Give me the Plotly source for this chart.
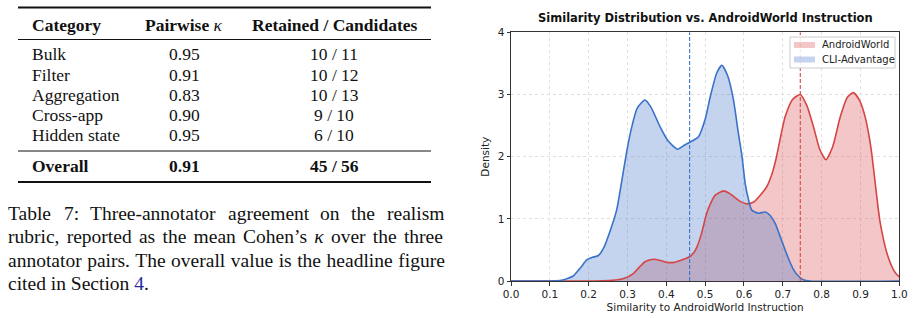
import plotly.graph_objects as go

W, H = 913, 318

# ---------------- data ----------------
table_header = ["Category", "Pairwise κ", "Retained / Candidates"]
categories = ["Bulk", "Filter", "Aggregation", "Cross-app", "Hidden state"]
kappa = ["0.95", "0.91", "0.83", "0.90", "0.95"]
retained = ["10 / 11", "10 / 12", "10 / 13", "9 / 10", "6 / 10"]
overall = ["Overall", "0.91", "45 / 56"]

caption_line1_words = ["Table", "7:", "Three-annotator", "agreement", "on", "the", "realism"]
caption_lines = [
    "rubric, reported as the mean Cohen’s <i>κ</i> over the three",
    "annotator pairs. The overall value is the headline figure",
    "cited in Section <span style='color:#2a2aa0'>4</span>.",
]

series_names = ["AndroidWorld", "CLI-Advantage"]

# KDE curves
aw_x = [0.0, 0.22, 0.26, 0.29, 0.315, 0.33, 0.345, 0.367, 0.385, 0.401, 0.42, 0.436, 0.46, 0.47,
        0.479, 0.49, 0.504, 0.515, 0.526, 0.547, 0.56, 0.573, 0.59, 0.607, 0.625, 0.642, 0.659,
        0.672, 0.682, 0.706, 0.725, 0.745, 0.762, 0.779, 0.795, 0.811, 0.828, 0.848, 0.866, 0.882,
        0.898, 0.912, 0.923, 0.930, 0.938, 0.945, 0.951, 0.96, 0.968, 0.977, 0.985, 0.993, 1.0]
aw_y = [0.0, 0.0, 0.01, 0.04, 0.12, 0.22, 0.31, 0.35, 0.33, 0.30, 0.30, 0.33, 0.39, 0.45,
        0.55, 0.75, 1.09, 1.26, 1.38, 1.45, 1.42, 1.36, 1.28, 1.24, 1.27, 1.38, 1.52,
        1.72, 1.95, 2.64, 2.92, 3.0, 2.82, 2.48, 2.12, 1.95, 2.15, 2.64, 2.95, 3.03,
        2.9, 2.64, 2.3, 2.0, 1.57, 1.2, 0.93, 0.65, 0.45, 0.29, 0.18, 0.11, 0.07]

cli_x = [0.0, 0.10, 0.13, 0.16, 0.18, 0.195, 0.21, 0.225, 0.24, 0.255, 0.272, 0.285, 0.298, 0.31,
         0.325, 0.345, 0.36, 0.384, 0.405, 0.429, 0.445, 0.46, 0.483, 0.5, 0.513, 0.53, 0.543,
         0.558, 0.573, 0.585, 0.595, 0.603, 0.612, 0.62, 0.637, 0.655, 0.668, 0.68, 0.693, 0.706,
         0.718, 0.728, 0.74, 0.753, 0.77, 1.0]
cli_y = [0.0, 0.0, 0.01, 0.08, 0.22, 0.34, 0.38, 0.41, 0.55, 0.8, 1.14, 1.6, 2.08, 2.45,
         2.78, 2.91, 2.8, 2.48, 2.25, 2.12, 2.18, 2.23, 2.32, 2.6, 2.96, 3.35, 3.47,
         3.3, 2.91, 2.4, 2.0, 1.57, 1.3, 1.14, 1.09, 1.11, 1.05, 0.93, 0.72, 0.5,
         0.31, 0.18, 0.08, 0.02, 0.0, 0.0]

aw_mean = 0.745
cli_mean = 0.46

RED = "#d64545"
BLUE = "#3a72c8"
RED_FILL = "rgba(214,69,69,0.3)"
BLUE_FILL = "rgba(58,114,200,0.3)"


def px(x):
    return x / W


def py(y):
    return 1 - y / H


fig = go.Figure()

fig.add_trace(go.Scatter(x=aw_x, y=aw_y, mode="none", fill="tozeroy", fillcolor=RED_FILL,
                         line=dict(shape="spline", smoothing=0.6), name=series_names[0]))
fig.add_trace(go.Scatter(x=cli_x, y=cli_y, mode="none", fill="tozeroy", fillcolor=BLUE_FILL,
                         line=dict(shape="spline", smoothing=0.6), name=series_names[1]))
fig.add_trace(go.Scatter(x=aw_x, y=aw_y, mode="lines", line=dict(color=RED, width=1.6, shape="spline", smoothing=0.6),
                         hoverinfo="skip"))
fig.add_trace(go.Scatter(x=cli_x, y=cli_y, mode="lines", line=dict(color=BLUE, width=1.6, shape="spline", smoothing=0.6),
                         hoverinfo="skip"))
for m, c in [(cli_mean, BLUE), (aw_mean, RED)]:
    fig.add_trace(go.Scatter(x=[m, m], y=[0, 4], mode="lines", line=dict(color=c, width=1.1, dash="4px,2px"),
                             hoverinfo="skip"))

axis_font = dict(family="DejaVu Sans", size=10.5, color="#222")
fig.update_xaxes(domain=[px(511), px(899.3)], range=[0, 1], dtick=0.1, tickformat=".1f",
                 ticks="outside", ticklen=3.5, tickcolor="#333", showline=True, mirror=True,
                 linecolor="#333", linewidth=1, showgrid=True, gridcolor="#e0e0e0", griddash="dot",
                 gridwidth=1, zeroline=False, tickfont=axis_font, automargin=False,
                 title=dict(text="Similarity to AndroidWorld Instruction", font=axis_font, standoff=4))
fig.update_yaxes(domain=[py(281), py(32.3)], range=[0, 4], dtick=1,
                 ticks="outside", ticklen=3.5, tickcolor="#333", showline=True, mirror=True,
                 linecolor="#333", linewidth=1, showgrid=True, gridcolor="#e0e0e0", griddash="dot",
                 gridwidth=1, zeroline=False, tickfont=axis_font, automargin=False,
                 title=dict(text="Density", font=axis_font, standoff=6))

annotations = []
shapes = []

# chart title
annotations.append(dict(x=px(705.5), y=py(18), xref="paper", yref="paper", showarrow=False,
                        text="<b>Similarity Distribution vs. AndroidWorld Instruction</b>",
                        font=dict(family="DejaVu Sans", size=11.5, color="#111"),
                        xanchor="center", yanchor="middle"))

# legend (drawn manually to match compact matplotlib legend)
shapes.append(dict(type="rect", xref="paper", yref="paper", x0=px(790), x1=px(895), y0=py(68), y1=py(37),
                   fillcolor="rgba(255,255,255,0.85)", line=dict(color="#cccccc", width=1), layer="above"))
for k, (nm, fc) in enumerate(zip(series_names, [RED_FILL, BLUE_FILL])):
    yc = 45 + 14.5 * k
    shapes.append(dict(type="rect", xref="paper", yref="paper", x0=px(794), x1=px(815),
                       y0=py(yc + 3), y1=py(yc - 3), fillcolor=fc, line=dict(width=0), layer="above"))
    annotations.append(dict(x=px(820), y=py(yc), xref="paper", yref="paper", showarrow=False, text=nm,
                            font=dict(family="DejaVu Sans", size=10, color="#222"),
                            xanchor="left", yanchor="middle"))

# ---------------- table ----------------
serif = "Liberation Serif"
tfs = 17.5
col_x = [30, 184, 334]
col_anchor = ["left", "center", "center"]


def cell(text, xpix, ypix, anchor, size=tfs):
    annotations.append(dict(x=px(xpix), y=py(ypix), xref="paper", yref="paper", showarrow=False,
                            text=text, font=dict(family=serif, size=size, color="#111"),
                            xanchor=anchor, yanchor="middle"))


for j, h in enumerate(table_header):
    if "κ" in h:
        txt = "<b>" + h.replace(" κ", "") + "</b> <i>κ</i>"
    else:
        txt = f"<b>{h}</b>"
    cell(txt, col_x[j], 25, col_anchor[j])

row_y = [54, 74.5, 95, 115, 135]
for i in range(len(categories)):
    cell(categories[i], col_x[0], row_y[i], "left")
    cell(kappa[i], col_x[1], row_y[i], "center")
    cell(retained[i], col_x[2], row_y[i], "center")
for j, v in enumerate(overall):
    cell(f"<b>{v}</b>", col_x[j], 165.5, col_anchor[j])

for ypix, lw in [(7.5, 2), (39.5, 1), (151, 1), (182, 2.2)]:
    shapes.append(dict(type="line", xref="paper", yref="paper", x0=px(18), x1=px(431),
                       y0=py(ypix), y1=py(ypix), line=dict(color="#111", width=lw)))

# ---------------- caption ----------------
cfs = 19.5
line1_x = [6, 61.5, 88, 225.5, 318, 349, 385]
for wd, xp in zip(caption_line1_words, line1_x):
    annotations.append(dict(x=px(xp), y=py(213), xref="paper", yref="paper", showarrow=False,
                            text=wd, font=dict(family=serif, size=cfs, color="#111"),
                            xanchor="left", yanchor="middle"))
word_sp = [2.4, 0.7, 0]
for k, ln in enumerate(caption_lines):
    txt = f"<span style='word-spacing:{word_sp[k]}px'>{ln}</span>" if word_sp[k] else ln
    annotations.append(dict(x=px(6), y=py(236.5 + 23.5 * k), xref="paper", yref="paper", showarrow=False,
                            text=txt, font=dict(family=serif, size=cfs, color="#111"),
                            xanchor="left", yanchor="middle"))

fig.update_layout(
    width=W, height=H, margin=dict(l=0, r=0, t=0, b=0),
    paper_bgcolor="white", plot_bgcolor="white",
    annotations=annotations, shapes=shapes,
    showlegend=False,
)

fig.write_html("out.html")
